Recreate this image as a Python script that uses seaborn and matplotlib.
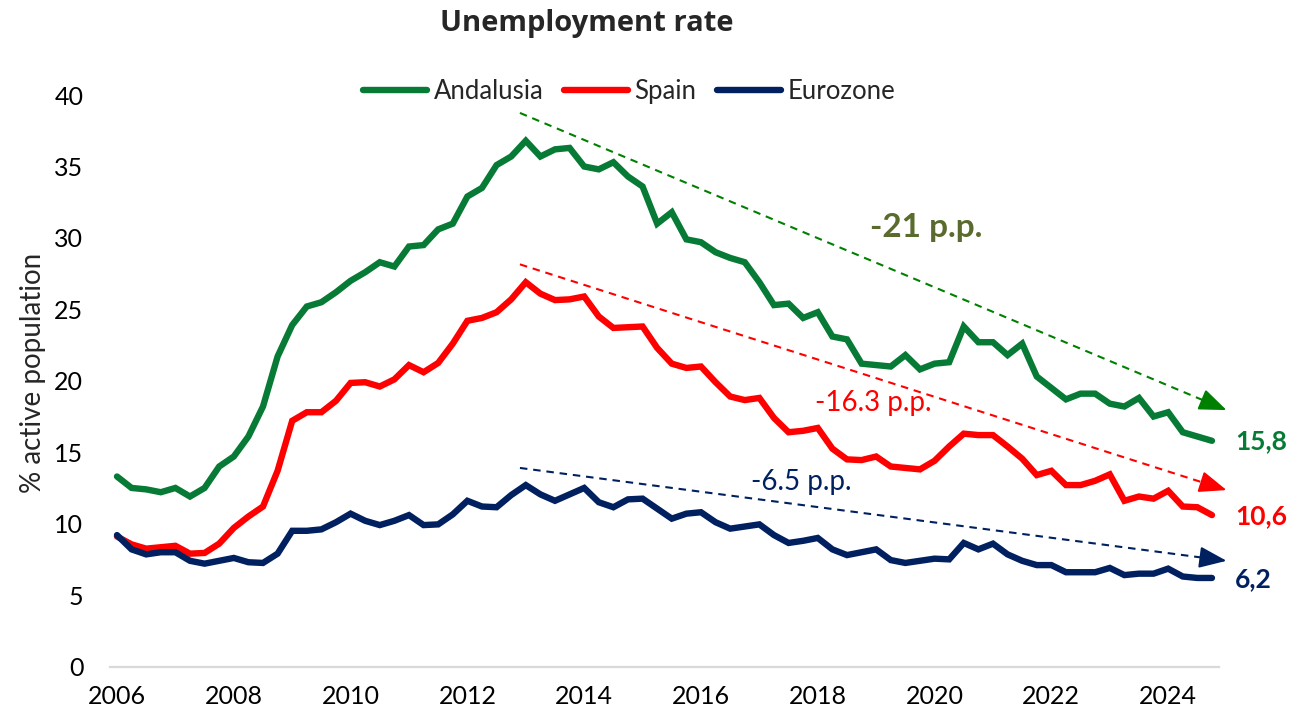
import numpy as np
import pandas as pd
import seaborn as sns
import matplotlib.pyplot as plt

# quarterly unemployment rate, 2006Q1 .. 2024Q4
andalusia = [13.3, 12.5, 12.4, 12.2, 12.5, 11.9, 12.5, 14.0, 14.7, 16.1,
             18.2, 21.7, 23.9, 25.2, 25.5, 26.2, 27.0, 27.6, 28.3, 28.0,
             29.4, 29.5, 30.6, 31.0, 32.9, 33.5, 35.1, 35.7, 36.8, 35.7,
             36.2, 36.3, 35.0, 34.8, 35.3, 34.3, 33.6, 31.0, 31.8, 29.9,
             29.7, 29.0, 28.6, 28.3, 26.9, 25.3, 25.4, 24.4, 24.8, 23.1,
             22.9, 21.2, 21.1, 21.0, 21.8, 20.8, 21.2, 21.3, 23.8, 22.7,
             22.7, 21.8, 22.6, 20.3, 19.5, 18.7, 19.1, 19.1, 18.4, 18.2,
             18.8, 17.5, 17.8, 16.4, 16.1, 15.8]
spain = [9.1, 8.55, 8.25, 8.35, 8.45, 7.9, 7.95, 8.6, 9.7, 10.5,
         11.2, 13.7, 17.2, 17.8, 17.8, 18.6, 19.85, 19.9, 19.6, 20.1,
         21.1, 20.6, 21.25, 22.6, 24.2, 24.4, 24.8, 25.7, 26.9, 26.1,
         25.65, 25.7, 25.9, 24.5, 23.7, 23.75, 23.8, 22.3, 21.2, 20.9,
         21.0, 19.9, 18.9, 18.65, 18.8, 17.4, 16.4, 16.5, 16.7, 15.25,
         14.5, 14.45, 14.7, 14.0, 13.9, 13.8, 14.4, 15.4, 16.3, 16.2,
         16.2, 15.4, 14.55, 13.4, 13.7, 12.7, 12.7, 13.0, 13.45, 11.6,
         11.9, 11.75, 12.3, 11.2, 11.15, 10.6]
eurozone = [9.2, 8.2, 7.85, 8.0, 8.0, 7.4, 7.2, 7.4, 7.6, 7.3,
            7.25, 7.9, 9.5, 9.5, 9.6, 10.1, 10.7, 10.2, 9.9, 10.2,
            10.6, 9.9, 9.95, 10.65, 11.6, 11.2, 11.15, 12.0, 12.7, 12.05,
            11.6, 12.05, 12.5, 11.5, 11.15, 11.7, 11.75, 11.05, 10.35, 10.7,
            10.8, 10.1, 9.65, 9.8, 9.95, 9.2, 8.65, 8.8, 9.0, 8.2,
            7.8, 8.0, 8.2, 7.45, 7.25, 7.4, 7.55, 7.5, 8.65, 8.2,
            8.6, 7.85, 7.4, 7.1, 7.1, 6.6, 6.6, 6.6, 6.9, 6.4,
            6.5, 6.5, 6.85, 6.3, 6.2, 6.2]

series_names = ['Andalusia', 'Spain', 'Eurozone']
series_colors = ['#077A35', '#FF0000', '#002060']
year_labels = ['2006', '2008', '2010', '2012', '2014', '2016', '2018', '2020', '2022', '2024']

# trend arrows (quarter index, value)
trend_x0 = [27.6, 27.6, 27.6]
trend_y0 = [38.75, 28.15, 13.9]
trend_x1 = [76.0, 76.0, 76.0]
trend_y1 = [17.95, 12.35, 7.4]
trend_colors = ['#008000', '#FF0000', '#002060']
trend_texts = ['-21 p.p.', '-16.3 p.p.', '-6.5 p.p.']
trend_text_x = [55.4, 51.8, 46.9]
trend_text_y = [30.7, 18.45, 12.95]

end_labels = ['15,8', '10,6', '6,2']
end_label_y = [15.75, 10.55, 6.15]

n = len(andalusia)
df = pd.DataFrame({
    't': np.tile(np.arange(n), 3),
    'rate': andalusia + spain + eurozone,
    'region': np.repeat(series_names, n),
})

sns.set_theme(style='white')
plt.rcParams['font.family'] = ['Lato', 'DejaVu Sans']

fig = plt.figure(figsize=(12.92, 7.17), dpi=100)
ax = fig.add_axes([0.0849, 0.0704, 0.8588, 0.797])

sns.lineplot(data=df, x='t', y='rate', hue='region', hue_order=series_names,
             palette=series_colors, linewidth=4.6, ax=ax, legend=False,
             solid_joinstyle='miter')

# dashed trend arrows: dashed shaft + solid head
for i in range(3):
    ax.plot([trend_x0[i], trend_x1[i] - 1.0],
            [trend_y0[i], trend_y1[i] + (trend_y0[i] - trend_y1[i]) / (trend_x1[i] - trend_x0[i])],
            color=trend_colors[i], lw=1.5, linestyle=(0, (3.6, 2.8)), clip_on=False)
    ax.annotate('', xy=(trend_x1[i], trend_y1[i]),
                xytext=(trend_x1[i] - 1.6,
                        trend_y1[i] + 1.6 * (trend_y0[i] - trend_y1[i]) / (trend_x1[i] - trend_x0[i])),
                annotation_clip=False,
                arrowprops=dict(arrowstyle='-|>,head_length=1.4,head_width=0.55',
                                color=trend_colors[i], lw=1.5, shrinkA=0, shrinkB=0))

ax.text(trend_text_x[0], trend_text_y[0], trend_texts[0], color='#5A6B2E',
        fontsize=24, fontweight='bold', ha='center', va='center')
ax.text(trend_text_x[1], trend_text_y[1], trend_texts[1], color='#FF0000',
        fontsize=20, ha='center', va='center')
ax.text(trend_text_x[2], trend_text_y[2], trend_texts[2], color='#002060',
        fontsize=20, ha='center', va='center')

for lab, yv, c in zip(end_labels, end_label_y, series_colors):
    ax.text(76.6, yv, lab, color=c, fontsize=19, fontweight='bold',
            ha='left', va='center', clip_on=False)

ax.set_xlim(-0.5, n - 0.5)
ax.set_ylim(0, 40)
ax.set_xticks(np.arange(0, n, 8))
ax.set_xticklabels(year_labels)
ax.set_yticks(np.arange(0, 41, 5))
ax.tick_params(axis='both', length=0, labelsize=18, colors='black')
ax.tick_params(axis='y', pad=19)
ax.tick_params(axis='x', pad=13)
ax.set_xlabel('')
ax.set_ylabel('')
for s in ['left', 'top', 'right']:
    ax.spines[s].set_visible(False)
ax.spines['bottom'].set_color('#D9D9D9')
ax.spines['bottom'].set_linewidth(1.6)

fig.text(0.0255, 0.48, '% active population', rotation=90, fontsize=20,
         ha='center', va='center')
fig.text(0.454, 0.967, 'Unemployment rate', fontsize=21, fontweight='bold',
         family=['Open Sans', 'DejaVu Sans'], ha='center', va='center')

handles = [plt.Line2D([], [], color=c, lw=4.6, solid_capstyle='round') for c in series_colors]
fig.legend(handles, series_names, loc='center', bbox_to_anchor=(0.487, 0.872),
           ncol=3, frameon=False, fontsize=18.5, handlelength=2.5,
           handletextpad=0.25, columnspacing=0.8)

fig.savefig('out.png', dpi=100)
